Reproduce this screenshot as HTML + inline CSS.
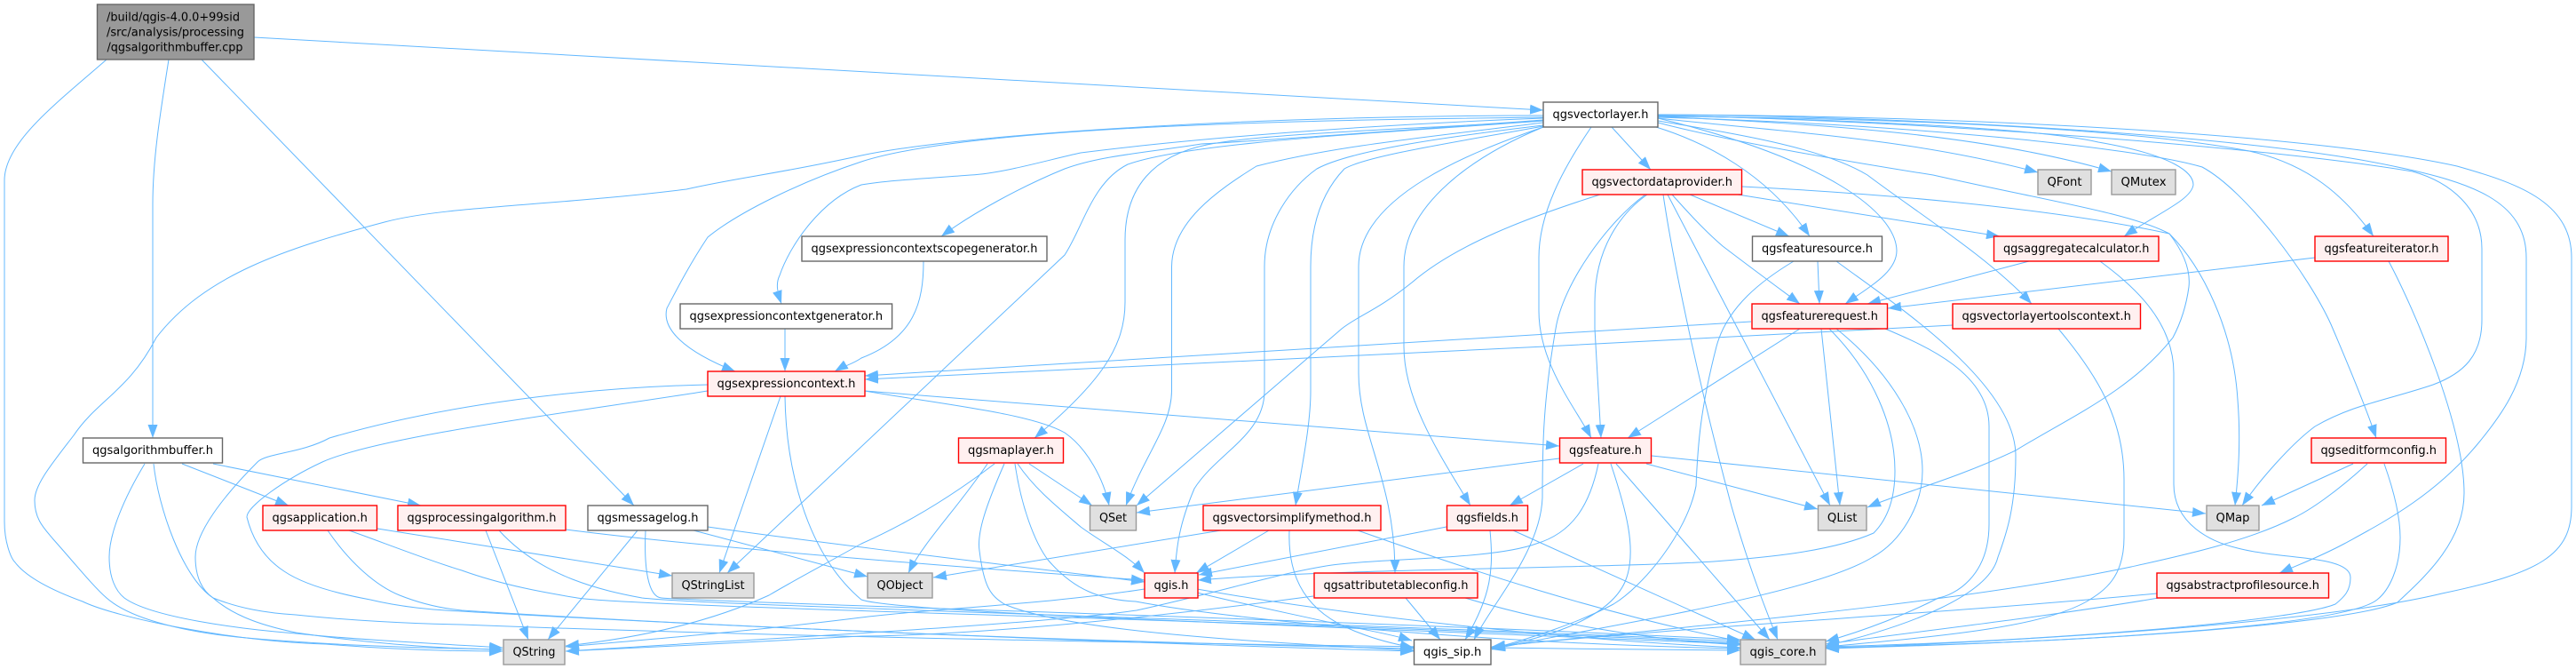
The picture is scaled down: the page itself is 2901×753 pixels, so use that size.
<!DOCTYPE html>
<html><head><meta charset="utf-8"><style>
html,body{margin:0;padding:0;background:#fff}
svg{display:block}
text{font-family:"DejaVu Sans","Liberation Sans",sans-serif;font-size:13px;fill:#000;text-anchor:middle}
.l text{text-anchor:start}
rect{stroke-width:1.4}
.n{fill:#fff;stroke:#666}
.r{fill:#FFF0F0;stroke:#f00}
.g{fill:#E0E0E0;stroke:#999}
</style></head><body>
<svg xmlns="http://www.w3.org/2000/svg" width="2901" height="753" viewBox="0 0 2901 753">
<defs><marker id="a" markerUnits="userSpaceOnUse" markerWidth="17" markerHeight="13" refX="15" refY="6" orient="auto"><path d="M0,0.5 L15,6 L0,11.5 Z" fill="#63B8FF"/></marker></defs>
<rect width="2901" height="753" fill="#fff" style="stroke:none"/>
<g fill="none" stroke="#63B8FF" stroke-width="1" marker-end="url(#a)">
<path d="M286,42 L1738,124"/>
<path d="M120,67 C65,115 5,160 5,203 V587 C5,610 12,628 17,633 C30,650 60,665 93,677 C130,695 260,722 367,725 C430,730 500,733 566,733"/>
<path d="M190,67 C180,130 172,180 172,230 V493"/>
<path d="M227,67 L714,569"/>
<path d="M205,522 L325,569"/>
<path d="M240,522 L474,569"/>
<path d="M163,522 C140,560 123,600 123,627 C123,650 130,665 140,673 C170,695 270,708 333,713 C400,720 500,725 566,729"/>
<path d="M173,522 C178,570 205,650 240,673 C270,685 300,690 333,692 C390,698 460,702 520,703 C900,718 1500,728 1960,732"/>
<path d="M425,595 L757,648"/>
<path d="M393,597 C430,610 480,630 520,642 C570,660 620,668 650,673 C720,684 1500,700 1960,724"/>
<path d="M369,597 C395,635 425,660 450,670 C475,680 500,685 520,687 C800,705 1200,722 1592,730"/>
<path d="M547,597 L595,720"/>
<path d="M562,597 C610,650 680,665 723,673 C800,682 1500,700 1960,722"/>
<path d="M637,596 C800,617 1100,640 1289,653"/>
<path d="M718,597 L617,720"/>
<path d="M727,597 C725,640 730,672 745,673 C800,678 1500,697 1960,720"/>
<path d="M781,597 L977,649"/>
<path d="M797,593 C900,608 1100,632 1289,655"/>
<path d="M797,433 C660,436 500,455 371,493 C340,510 300,510 290,520 C250,560 220,600 220,627 C220,650 228,665 240,673 C265,695 300,705 333,712 C400,722 480,730 566,731"/>
<path d="M797,440 C660,462 430,490 363,520 C320,540 278,570 278,582 C285,610 300,630 320,643 C345,660 390,670 417,675 C450,683 490,687 520,688 C800,705 1300,725 1592,733"/>
<path d="M879,446 L810,645"/>
<path d="M974,440 C1060,455 1160,465 1199,487 C1225,505 1243,540 1249,569"/>
<path d="M974,440 L1756,502"/>
<path d="M884,446 C885,520 905,620 970,675 C1010,690 1500,705 1960,725"/>
<path d="M1738,130 C1450,130 1100,148 970,175 C880,195 830,200 773,213 C620,232 500,232 433,250 C320,280 230,310 176,380 C145,440 110,450 83,490 C60,520 39,545 39,563 C39,585 50,595 60,607 C85,635 105,660 120,673 C145,695 200,710 267,717 C350,725 450,729 566,731"/>
<path d="M1738,132 C1500,135 1100,140 970,182 C900,205 830,240 797,267 C775,300 760,330 751,347 C745,370 770,395 828,418"/>
<path d="M1738,133 C1550,140 1350,155 1217,172 C1180,180 1130,195 1093,197 C1040,201 1000,203 970,208 C925,225 890,275 878,310 C873,320 876,330 880,342"/>
<path d="M1738,135 C1600,145 1400,160 1353,162 C1290,172 1240,175 1199,190 C1150,210 1095,240 1060,266"/>
<path d="M1040,294 C1040,340 1030,380 970,403 C960,410 950,412 940,418"/>
<path d="M884,370 L884,418"/>
<path d="M1738,136 C1550,150 1340,160 1270,185 C1230,205 1220,255 1199,287 L819,645"/>
<path d="M1738,136 C1600,145 1420,150 1359,163 C1300,175 1267,210 1267,270 V340 C1267,390 1240,430 1165,493"/>
<path d="M1738,138 C1600,155 1500,165 1415,187 C1370,215 1320,250 1319.5,300 V440 C1319,480 1290,510 1268,569"/>
<path d="M1738,141 C1620,155 1520,170 1483,190 C1455,210 1424,250 1424,300 V440 C1424,490 1370,510 1345,550 C1328,590 1325,615 1323,645"/>
<path d="M1738,142 C1640,160 1540,175 1514,190 C1490,215 1476,250 1476,300 V440 C1476,480 1465,530 1459,569"/>
<path d="M1738,143 C1660,170 1530,220 1530,300 V420 C1530,490 1571,540 1571,645"/>
<path d="M1738,143 C1660,175 1581,230 1581,300 V390 C1581,450 1620,510 1656,569"/>
<path d="M1792,143 C1760,190 1733,240 1733,290 V350 C1733,410 1775,460 1792,493"/>
<path d="M1815,143 L1859,191"/>
<path d="M1855,219 C1825,240 1796,280 1796,340 V370 L1803,493"/>
<path d="M1853,219 C1810,250 1760,320 1752,370 C1738,450 1737,500 1737,560 C1735,620 1680,680 1660,720"/>
<path d="M1873,219 C1885,300 1915,440 1950,570 C1970,640 1990,690 2002,720"/>
<path d="M1903,219 L2015,266"/>
<path d="M1883,219 C1900,238 1920,260 1940,277 C1970,300 2000,322 2027,342"/>
<path d="M1878,219 L2061,569"/>
<path d="M1802,219 C1720,245 1640,275 1590,318 C1550,350 1530,355 1511,370 L1280,569"/>
<path d="M1957,219 L2252,266"/>
<path d="M1962,210 C2100,217 2300,232 2443,263 C2480,300 2515,370 2520,450 C2524,500 2520,540 2517,569"/>
<path d="M1867,138 C1950,160 2100,185 2177,197 C2300,225 2400,240 2443,263 C2460,285 2467,305 2465,323 C2462,345 2455,365 2447,380 C2400,440 2330,470 2270,507 C2200,540 2140,555 2103,571"/>
<path d="M1865,143 C1920,160 1990,195 2038,266"/>
<path d="M1867,133 C2060,180 2135,240 2136,282 C2136,305 2110,320 2078,342"/>
<path d="M1867,136 C1950,150 2050,165 2103,197 C2160,240 2240,290 2288,342"/>
<path d="M1867,133 C2000,148 2150,155 2295,194"/>
<path d="M1867,131 C2050,140 2230,150 2378,193"/>
<path d="M1867,130 C2100,135 2300,145 2363,160 C2450,175 2470,195 2470,208 C2468,225 2430,240 2392,266"/>
<path d="M1867,132 C2150,140 2400,165 2480,188 C2530,215 2600,310 2625,365 C2640,400 2665,460 2676,493"/>
<path d="M1867,131 C2150,133 2400,145 2533,170 C2600,185 2640,220 2673,266"/>
<path d="M1867,130 C2150,135 2550,165 2717,193 C2760,205 2795,235 2795,280 V360 C2795,400 2775,420 2740,433 C2690,450 2650,455 2607,480 C2580,500 2545,540 2525,569"/>
<path d="M1867,129 C2200,132 2550,155 2700,188 C2780,205 2845,225 2845,290 V380 C2845,430 2815,470 2790,500 C2740,560 2680,590 2640,612 C2610,628 2585,637 2567,645"/>
<path d="M1867,129 C2200,130 2600,150 2767,187 C2830,205 2896,225 2896,290 V570 C2896,625 2860,645 2750,668 C2680,685 2500,712 2056,730"/>
<path d="M2365,294 C2400,320 2448,360 2448,420 V545 C2448,590 2490,610 2520,617 C2570,630 2647,625 2647,650 C2647,665 2640,672 2630,680 C2580,700 2300,722 2056,728"/>
<path d="M2199,366 L1740,390 L974,427"/>
<path d="M1972,362 L974,423"/>
<path d="M2318,370 C2360,420 2392,470 2392,540 V605 C2392,650 2370,665 2350,677 C2300,705 2200,715 2056,728"/>
<path d="M2607,290 L2126,347"/>
<path d="M2690,294 C2720,350 2775,480 2775,555 C2775,610 2730,650 2700,678 C2650,700 2400,722 2056,729"/>
<path d="M2285,294 L2103,342"/>
<path d="M2047,294 L2049,342"/>
<path d="M2020,294 C1985,315 1945,345 1933,390 C1915,460 1912,500 1910,547 C1900,600 1850,660 1817,680 C1780,700 1720,720 1680,730"/>
<path d="M2068,294 C2130,340 2270,430 2270,513 C2270,570 2260,600 2250,627 C2240,670 2150,705 2056,727"/>
<path d="M2123,370 C2170,390 2240,420 2240,480 V590 C2240,650 2200,670 2183,673 C2150,690 2100,710 2056,722"/>
<path d="M2027,370 L1833,493"/>
<path d="M2051,370 L2072,569"/>
<path d="M2060,370 C2110,420 2134,480 2134,530 C2134,570 2120,590 2110,600 C2060,622 1980,628 1930,632 C1800,640 1500,640 1349,653"/>
<path d="M2068,370 C2130,420 2165,480 2165,530 C2165,570 2140,610 2109,627 C2040,670 1800,705 1680,731"/>
<path d="M1756,516 L1280,577"/>
<path d="M1783,522 L1700,569"/>
<path d="M1800,522 C1790,570 1770,600 1730,612 C1680,630 1560,628 1500,636 C1440,645 1380,665 1280,687 C1150,705 800,722 637,733"/>
<path d="M1814,522 C1830,570 1845,620 1830,655 C1810,700 1730,720 1680,730"/>
<path d="M1820,522 L1993,720"/>
<path d="M1860,513 L2484,578"/>
<path d="M1854,522 L2047,573"/>
<path d="M1629,593 L1350,647"/>
<path d="M1678,597 C1682,640 1680,670 1650,720"/>
<path d="M1704,597 L1977,720"/>
<path d="M1375,597 L1051,650"/>
<path d="M1429,597 L1347,645"/>
<path d="M1452,597 C1450,650 1470,690 1530,712 C1550,720 1570,725 1592,729"/>
<path d="M1529,597 C1650,640 1800,690 1960,722"/>
<path d="M1583,673 L1622,720"/>
<path d="M1650,673 C1740,700 1850,720 1960,726"/>
<path d="M1479,671 C1300,695 1100,715 970,716 C850,722 750,728 637,733"/>
<path d="M1289,663 C1180,680 1050,685 970,695 C850,710 750,718 637,728"/>
<path d="M1348,667 C1400,680 1450,690 1495,700 C1530,708 1560,712 1590,721"/>
<path d="M1348,663 C1500,690 1750,720 1960,729"/>
<path d="M1159,522 L1230,569"/>
<path d="M1146,522 C1165,550 1190,570 1217,593 C1240,610 1270,625 1289,645"/>
<path d="M1112,522 C1080,570 1040,610 1023,645"/>
<path d="M1120,522 C1070,560 1020,590 970,612 C920,640 900,650 866,670 C800,700 720,718 637,727"/>
<path d="M1131,522 C1110,570 1100,600 1103,620 C1108,660 1115,670 1131,680 C1200,710 1400,722 1592,732"/>
<path d="M1143,522 C1150,570 1165,610 1180,630 C1210,665 1240,675 1279,677 C1400,700 1700,725 1960,730"/>
<path d="M2429,668 C2200,690 1900,705 1680,728"/>
<path d="M2431,673 C2300,695 2180,708 2056,725"/>
<path d="M2650,522 L2547,569"/>
<path d="M2666,522 C2630,555 2600,575 2583,583 C2530,610 2450,627 2400,638 C2200,680 1900,705 1680,728"/>
<path d="M2685,522 C2695,550 2703,580 2703,605 C2703,640 2690,665 2677,675 C2640,705 2350,722 2056,730"/>
</g>
<g>
<rect x="109.5" y="5" width="176.5" height="62" fill="#999" stroke="#666"/>
<rect class="n" x="1738" y="115" width="129" height="28"/>
<rect class="r" x="1782" y="191" width="179.5" height="28"/>
<rect class="n" x="903" y="266" width="276" height="28"/>
<rect class="n" x="766" y="342" width="238.6" height="28"/>
<rect class="r" x="797" y="418" width="177" height="28"/>
<rect class="n" x="93.5" y="493" width="157" height="28"/>
<rect class="r" x="296" y="569" width="128.5" height="28"/>
<rect class="r" x="448" y="569" width="189" height="28"/>
<rect class="n" x="662" y="569" width="135" height="28"/>
<rect class="g" x="757" y="645" width="92" height="28"/>
<rect class="g" x="567" y="720" width="69" height="28"/>
<rect class="r" x="1079.5" y="493" width="118" height="28"/>
<rect class="r" x="1756.5" y="493" width="103" height="28"/>
<rect class="g" x="1227.5" y="569" width="52" height="28"/>
<rect class="r" x="1355" y="569" width="200" height="28"/>
<rect class="r" x="1629.5" y="569" width="91" height="28"/>
<rect class="g" x="977" y="645" width="73" height="28"/>
<rect class="r" x="1289" y="645" width="60" height="28"/>
<rect class="r" x="1480" y="645" width="184" height="28"/>
<rect class="n" x="1592.5" y="720" width="86.5" height="28"/>
<rect class="g" x="2295" y="191" width="60" height="28"/>
<rect class="g" x="2378" y="191" width="72" height="28"/>
<rect class="n" x="1973.5" y="266" width="146" height="28"/>
<rect class="r" x="2245.5" y="266" width="185.5" height="28"/>
<rect class="r" x="2607" y="266" width="150" height="28"/>
<rect class="r" x="1973" y="342" width="152.5" height="28"/>
<rect class="r" x="2199" y="342" width="211.5" height="28"/>
<rect class="g" x="2047.5" y="569" width="54.5" height="28"/>
<rect class="g" x="2485" y="569" width="59" height="28"/>
<rect class="r" x="2603" y="493" width="151.5" height="28"/>
<rect class="r" x="2429" y="645" width="193.5" height="28"/>
<rect class="g" x="1960" y="720" width="96" height="28"/>
</g>
<g class="l">
<text x="120" y="23.5" textLength="150" lengthAdjust="spacingAndGlyphs">/build/qgis-4.0.0+99sid</text>
<text x="120" y="40.5" textLength="155" lengthAdjust="spacingAndGlyphs">/src/analysis/processing</text>
<text x="120.5" y="57.5" textLength="153" lengthAdjust="spacingAndGlyphs">/qgsalgorithmbuffer.cpp</text>
</g>
<g>
<text x="1802.5" y="133" textLength="108" lengthAdjust="spacingAndGlyphs">qgsvectorlayer.h</text>
<text x="1871.7" y="209" textLength="158.5" lengthAdjust="spacingAndGlyphs">qgsvectordataprovider.h</text>
<text x="1041" y="284" textLength="255" lengthAdjust="spacingAndGlyphs">qgsexpressioncontextscopegenerator.h</text>
<text x="885.3" y="360" textLength="217.6" lengthAdjust="spacingAndGlyphs">qgsexpressioncontextgenerator.h</text>
<text x="885.5" y="436" textLength="156" lengthAdjust="spacingAndGlyphs">qgsexpressioncontext.h</text>
<text x="172" y="511" textLength="136" lengthAdjust="spacingAndGlyphs">qgsalgorithmbuffer.h</text>
<text x="360.2" y="587" textLength="107.5" lengthAdjust="spacingAndGlyphs">qgsapplication.h</text>
<text x="542.5" y="587" textLength="168" lengthAdjust="spacingAndGlyphs">qgsprocessingalgorithm.h</text>
<text x="729.5" y="587" textLength="114" lengthAdjust="spacingAndGlyphs">qgsmessagelog.h</text>
<text x="803" y="663" textLength="71" lengthAdjust="spacingAndGlyphs">QStringList</text>
<text x="601.5" y="738" textLength="48" lengthAdjust="spacingAndGlyphs">QString</text>
<text x="1138.5" y="511" textLength="97" lengthAdjust="spacingAndGlyphs">qgsmaplayer.h</text>
<text x="1808" y="511" textLength="82" lengthAdjust="spacingAndGlyphs">qgsfeature.h</text>
<text x="1253.5" y="587" textLength="31" lengthAdjust="spacingAndGlyphs">QSet</text>
<text x="1455" y="587" textLength="179" lengthAdjust="spacingAndGlyphs">qgsvectorsimplifymethod.h</text>
<text x="1675" y="587" textLength="70" lengthAdjust="spacingAndGlyphs">qgsfields.h</text>
<text x="1013.5" y="663" textLength="52" lengthAdjust="spacingAndGlyphs">QObject</text>
<text x="1319" y="663" textLength="39" lengthAdjust="spacingAndGlyphs">qgis.h</text>
<text x="1572" y="663" textLength="163" lengthAdjust="spacingAndGlyphs">qgsattributetableconfig.h</text>
<text x="1635.7" y="738" textLength="65.5" lengthAdjust="spacingAndGlyphs">qgis_sip.h</text>
<text x="2325" y="209" textLength="39" lengthAdjust="spacingAndGlyphs">QFont</text>
<text x="2414" y="209" textLength="51" lengthAdjust="spacingAndGlyphs">QMutex</text>
<text x="2046.5" y="284" textLength="125" lengthAdjust="spacingAndGlyphs">qgsfeaturesource.h</text>
<text x="2338.2" y="284" textLength="164.5" lengthAdjust="spacingAndGlyphs">qgsaggregatecalculator.h</text>
<text x="2682" y="284" textLength="129" lengthAdjust="spacingAndGlyphs">qgsfeatureiterator.h</text>
<text x="2049.2" y="360" textLength="131.5" lengthAdjust="spacingAndGlyphs">qgsfeaturerequest.h</text>
<text x="2304.7" y="360" textLength="190.5" lengthAdjust="spacingAndGlyphs">qgsvectorlayertoolscontext.h</text>
<text x="2074.7" y="587" textLength="33.5" lengthAdjust="spacingAndGlyphs">QList</text>
<text x="2514.5" y="587" textLength="38" lengthAdjust="spacingAndGlyphs">QMap</text>
<text x="2678.7" y="511" textLength="130.5" lengthAdjust="spacingAndGlyphs">qgseditformconfig.h</text>
<text x="2525.7" y="663" textLength="172.5" lengthAdjust="spacingAndGlyphs">qgsabstractprofilesource.h</text>
<text x="2008" y="738" textLength="75" lengthAdjust="spacingAndGlyphs">qgis_core.h</text>
</g>
</svg>
</body></html>
